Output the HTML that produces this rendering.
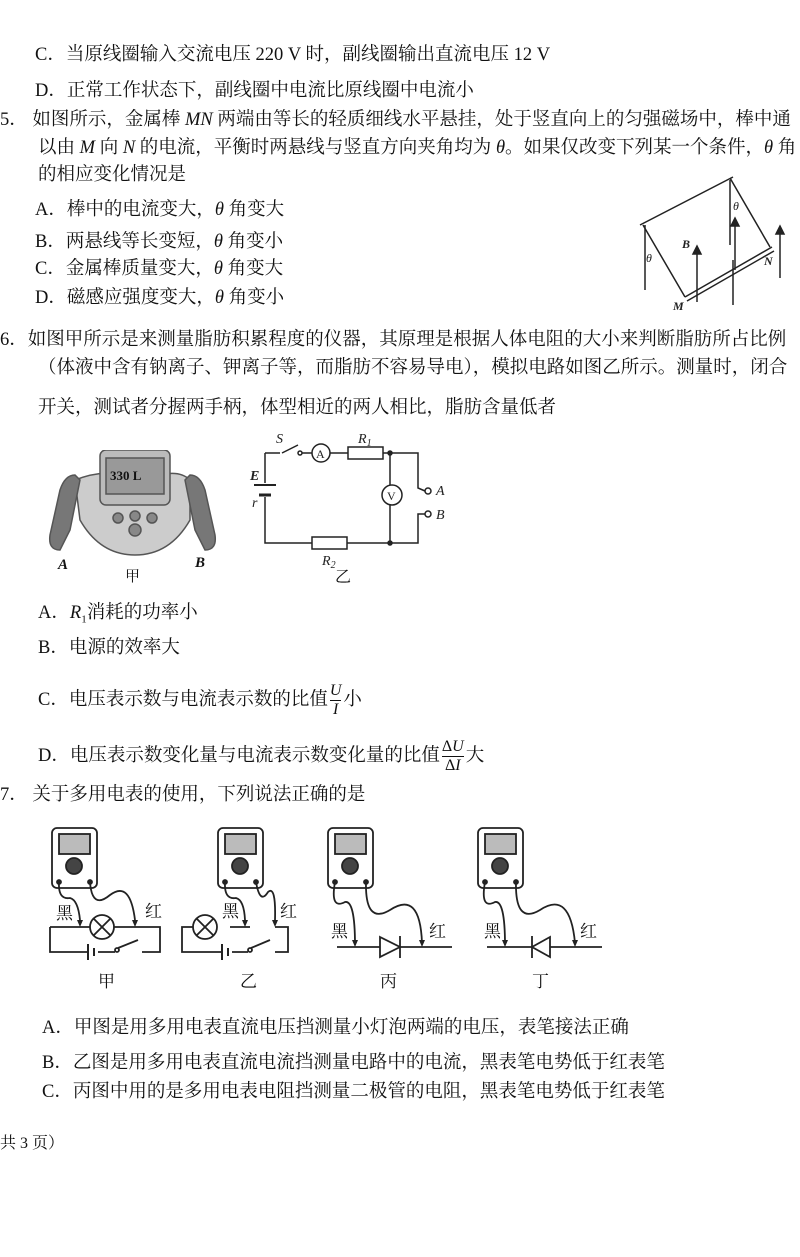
<!DOCTYPE html>
<html><head><meta charset="utf-8"><style>
body{margin:0;width:800px;height:1257px;background:#fff;position:relative;overflow:hidden;font-family:"Liberation Serif","Noto Serif CJK SC","Noto Sans CJK SC",serif;color:#111;}
.t{position:absolute;font-size:18.5px;white-space:nowrap;line-height:20px;}
i{font-style:italic}
.fr{display:inline-block;vertical-align:middle;text-align:center;font-size:16px;line-height:18px;margin:0 2px}
.fr span{display:block}
.fr span:first-child{border-bottom:1px solid #111}
</style></head><body>
<div class="t" style="left:35px;top:45px">C．当原线圈输入交流电压 220 V 时，副线圈输出直流电压 12 V</div>
<div class="t" style="left:35px;top:81px">D．正常工作状态下，副线圈中电流比原线圈中电流小</div>
<div class="t" style="left:0px;top:110px">5．&nbsp;如图所示，金属棒 <i>MN</i> 两端由等长的轻质细线水平悬挂，处于竖直向上的匀强磁场中，棒中通</div>
<div class="t" style="left:38px;top:138px">以由 <i>M</i> 向 <i>N</i> 的电流，平衡时两悬线与竖直方向夹角均为 <i>θ</i>。如果仅改变下列某一个条件，<i>θ</i> 角</div>
<div class="t" style="left:38px;top:165px">的相应变化情况是</div>
<div class="t" style="left:35px;top:200px">A．棒中的电流变大，<i>θ</i> 角变大</div>
<div class="t" style="left:35px;top:232px">B．两悬线等长变短，<i>θ</i> 角变小</div>
<div class="t" style="left:35px;top:259px">C．金属棒质量变大，<i>θ</i> 角变大</div>
<div class="t" style="left:35px;top:288px">D．磁感应强度变大，<i>θ</i> 角变小</div>
<svg style="position:absolute;left:600px;top:150px" width="200" height="170" stroke="#222" fill="none" stroke-width="1.5">
<path d="M40 75 L133 27"/>
<path d="M43 75 L85 147 M130 28 L170 97"/>
<path d="M45 75 L45 140 M130 30 L130 95"/>
<path d="M85 147 L172 97 M87 151 L174 101"/>
<path d="M97 152 L97 100 M135 120 L135 72 M180 128 L180 80 M133 155 L133 110"/>
<path d="M93 104 L97 96 L101 104 Z M131 76 L135 68 L139 76 Z M176 84 L180 76 L184 84 Z" fill="#222"/>
<text x="46" y="112" font-size="12" fill="#222" stroke="none" font-style="italic">θ</text>
<text x="133" y="60" font-size="12" fill="#222" stroke="none" font-style="italic">θ</text>
<text x="82" y="98" font-size="12" fill="#222" stroke="none" font-style="italic" font-weight="bold">B</text>
<text x="164" y="115" font-size="12" fill="#222" stroke="none" font-style="italic" font-weight="bold">N</text>
<text x="73" y="160" font-size="12" fill="#222" stroke="none" font-style="italic" font-weight="bold">M</text>
</svg>
<div class="t" style="left:0px;top:330px">6．如图甲所示是来测量脂肪积累程度的仪器，其原理是根据人体电阻的大小来判断脂肪所占比例</div>
<div class="t" style="left:38px;top:358px">（体液中含有钠离子、钾离子等，而脂肪不容易导电），模拟电路如图乙所示。测量时，闭合</div>
<div class="t" style="left:38px;top:398px">开关，测试者分握两手柄，体型相近的两人相比，脂肪含量低者</div>
<svg style="position:absolute;left:40px;top:450px" width="190" height="115" fill="none" stroke="#555" stroke-width="1.5">
<path d="M35 30 Q60 20 80 25 L120 25 Q140 20 150 30 L150 70 Q130 105 95 105 Q60 105 40 70 Z" fill="#ccc"/>
<path d="M20 40 Q25 25 35 25 L40 30 L30 80 L20 100 Q8 100 10 85 Z" fill="#777"/>
<path d="M165 40 Q160 25 150 25 L145 30 L155 80 L165 100 Q177 100 175 85 Z" fill="#777"/>
<rect x="60" y="0" width="70" height="55" rx="6" fill="#bbb"/>
<rect x="66" y="8" width="58" height="36" fill="#999"/>
<text x="70" y="30" font-size="13" fill="#111" stroke="none" font-weight="bold">330 L</text>
<circle cx="78" cy="68" r="5" fill="#888"/><circle cx="95" cy="66" r="5" fill="#888"/><circle cx="112" cy="68" r="5" fill="#888"/><circle cx="95" cy="80" r="6" fill="#888"/>
</svg>
<svg style="position:absolute;left:240px;top:425px" width="220" height="165" fill="none" stroke="#222" stroke-width="1.5">
<path d="M25 28 L25 58 M25 72 L25 118 L150 118 M25 28 L40 28 M58 20 L42 28 M60 28 L72 28 M90 28 L108 28 M143 28 L178 28 L178 58 M178 92 L178 118 L150 118"/>
<path d="M150 28 L150 60 M150 80 L150 118"/>
<path d="M14 60 L36 60" stroke-width="2"/><path d="M19 70 L31 70" stroke-width="3"/>
<circle cx="60" cy="28" r="2" fill="#fff"/>
<circle cx="150" cy="28" r="2" fill="#222"/><circle cx="150" cy="118" r="2" fill="#222"/>
<circle cx="81" cy="28" r="9" fill="#fff"/><text x="76" y="33" font-size="12" fill="#222" stroke="none">A</text>
<rect x="108" y="22" width="35" height="12" fill="#fff"/>
<circle cx="152" cy="70" r="10" fill="#fff"/><text x="147" y="75" font-size="12" fill="#222" stroke="none">V</text>
<rect x="72" y="112" width="35" height="12" fill="#fff"/>
<circle cx="188" cy="66" r="3" fill="#fff"/><circle cx="188" cy="89" r="3" fill="#fff"/>
<path d="M178 58 L178 63 L185 66 M178 92 L178 89 L185 89"/>
<text x="10" y="55" font-size="14" fill="#222" stroke="none" font-style="italic" font-weight="bold">E</text>
<text x="12" y="82" font-size="14" fill="#222" stroke="none" font-style="italic">r</text>
<text x="36" y="18" font-size="14" fill="#222" stroke="none" font-style="italic">S</text>
<text x="118" y="18" font-size="14" fill="#222" stroke="none" font-style="italic">R<tspan font-size="10" dy="3">1</tspan></text>
<text x="82" y="140" font-size="14" fill="#222" stroke="none" font-style="italic">R<tspan font-size="10" dy="3">2</tspan></text>
<text x="196" y="70" font-size="14" fill="#222" stroke="none" font-style="italic">A</text>
<text x="196" y="94" font-size="14" fill="#222" stroke="none" font-style="italic">B</text>
</svg>
<div class="t" style="left:58px;top:555px;font-size:15px"><i><b>A</b></i></div>
<div class="t" style="left:125px;top:567px;font-size:15px">甲</div>
<div class="t" style="left:195px;top:553px;font-size:15px"><i><b>B</b></i></div>
<div class="t" style="left:335px;top:568px;font-size:16px">乙</div>
<div class="t" style="left:38px;top:603px">A．<i>R</i><sub style="font-size:11px">1</sub>消耗的功率小</div>
<div class="t" style="left:38px;top:638px">B．电源的效率大</div>
<div class="t" style="left:38px;top:682px">C．电压表示数与电流表示数的比值<span class="fr"><span><i>U</i></span><span><i>I</i></span></span>小</div>
<div class="t" style="left:38px;top:738px">D．电压表示数变化量与电流表示数变化量的比值<span class="fr"><span>Δ<i>U</i></span><span>Δ<i>I</i></span></span>大</div>
<div class="t" style="left:0px;top:785px">7．&nbsp;关于多用电表的使用，下列说法正确的是</div>
<svg style="position:absolute;left:0px;top:820px" width="620" height="150" fill="none" stroke="#222" stroke-width="1.8">
<defs><g id="m"><rect x="0" y="8" width="45" height="60" rx="5" fill="#fff"/><rect x="7" y="14" width="31" height="20" fill="#bbb"/><circle cx="22" cy="46" r="8" fill="#444"/><circle cx="7" cy="62" r="2" fill="#222"/><circle cx="38" cy="62" r="2" fill="#222"/></g></defs>
<use href="#m" x="52" y="0"/>
<path d="M59 62 Q58 80 70 78 Q78 80 80 100"/><path d="M90 62 Q92 90 110 75 Q130 60 135 100"/>
<path d="M50 107 L50 132 L88 132 M98 132 L115 132 M142 132 L160 132 L160 107 L50 107"/>
<path d="M88 124 L88 140 M94 128 L94 136" stroke-width="2"/><circle cx="117" cy="130" r="2"/><path d="M118 128 L138 120"/>
<circle cx="102" cy="107" r="12" fill="#fff"/><path d="M94 99 L110 115 M110 99 L94 115"/>
<use href="#m" x="218" y="0"/>
<path d="M225 62 Q224 80 236 78 Q244 80 245 100"/><path d="M256 62 Q260 85 268 72 Q276 65 275 100"/>
<path d="M205 107 L182 107 L182 132 L222 132 M232 132 L248 132 M275 132 L288 132 L288 107 L275 107 M250 107 L230 107"/>
<path d="M222 124 L222 140 M228 128 L228 136" stroke-width="2"/><circle cx="250" cy="130" r="2"/><path d="M251 128 L270 120"/>
<circle cx="205" cy="107" r="12" fill="#fff"/><path d="M197 99 L213 115 M213 99 L197 115"/>
<use href="#m" x="328" y="0"/>
<path d="M335 62 Q330 90 345 82 Q355 80 355 125"/><path d="M366 62 Q365 105 390 90 Q420 70 422 123"/>
<path d="M337 127 L452 127"/><path d="M380 117 L400 127 L380 137 Z" fill="#fff"/><path d="M400 116 L400 138"/>
<use href="#m" x="478" y="0"/>
<path d="M485 62 Q480 90 495 82 Q505 80 505 125"/><path d="M516 62 Q515 105 540 90 Q570 70 575 123"/>
<path d="M487 127 L602 127"/><path d="M550 117 L532 127 L550 137 Z" fill="#fff"/><path d="M532 116 L532 138"/>
<g fill="#222" stroke="none"><path d="M77 100 L80 107 L83 100Z M132 100 L135 107 L138 100Z M242 100 L245 107 L248 100Z M272 100 L275 107 L278 100Z M352 120 L355 127 L358 120Z M419 120 L422 127 L425 120Z M502 120 L505 127 L508 120Z M572 120 L575 127 L578 120Z"/></g>
</svg>
<div class="t" style="left:56px;top:904px;font-size:17px">黑</div><div class="t" style="left:145px;top:902px;font-size:17px">红</div>
<div class="t" style="left:222px;top:902px;font-size:17px">黑</div><div class="t" style="left:280px;top:902px;font-size:17px">红</div>
<div class="t" style="left:331px;top:922px;font-size:17px">黑</div><div class="t" style="left:429px;top:922px;font-size:17px">红</div>
<div class="t" style="left:484px;top:922px;font-size:17px">黑</div><div class="t" style="left:580px;top:922px;font-size:17px">红</div>
<div class="t" style="left:98px;top:972px;font-size:17px">甲</div><div class="t" style="left:240px;top:972px;font-size:17px">乙</div>
<div class="t" style="left:380px;top:972px;font-size:17px">丙</div><div class="t" style="left:532px;top:972px;font-size:17px">丁</div>
<div class="t" style="left:42px;top:1018px">A．甲图是用多用电表直流电压挡测量小灯泡两端的电压，表笔接法正确</div>
<div class="t" style="left:42px;top:1053px">B．乙图是用多用电表直流电流挡测量电路中的电流，黑表笔电势低于红表笔</div>
<div class="t" style="left:42px;top:1082px">C．丙图中用的是多用电表电阻挡测量二极管的电阻，黑表笔电势低于红表笔</div>
<div class="t" style="left:0px;top:1134px;font-size:16px">共 3 页）</div>
</body></html>
